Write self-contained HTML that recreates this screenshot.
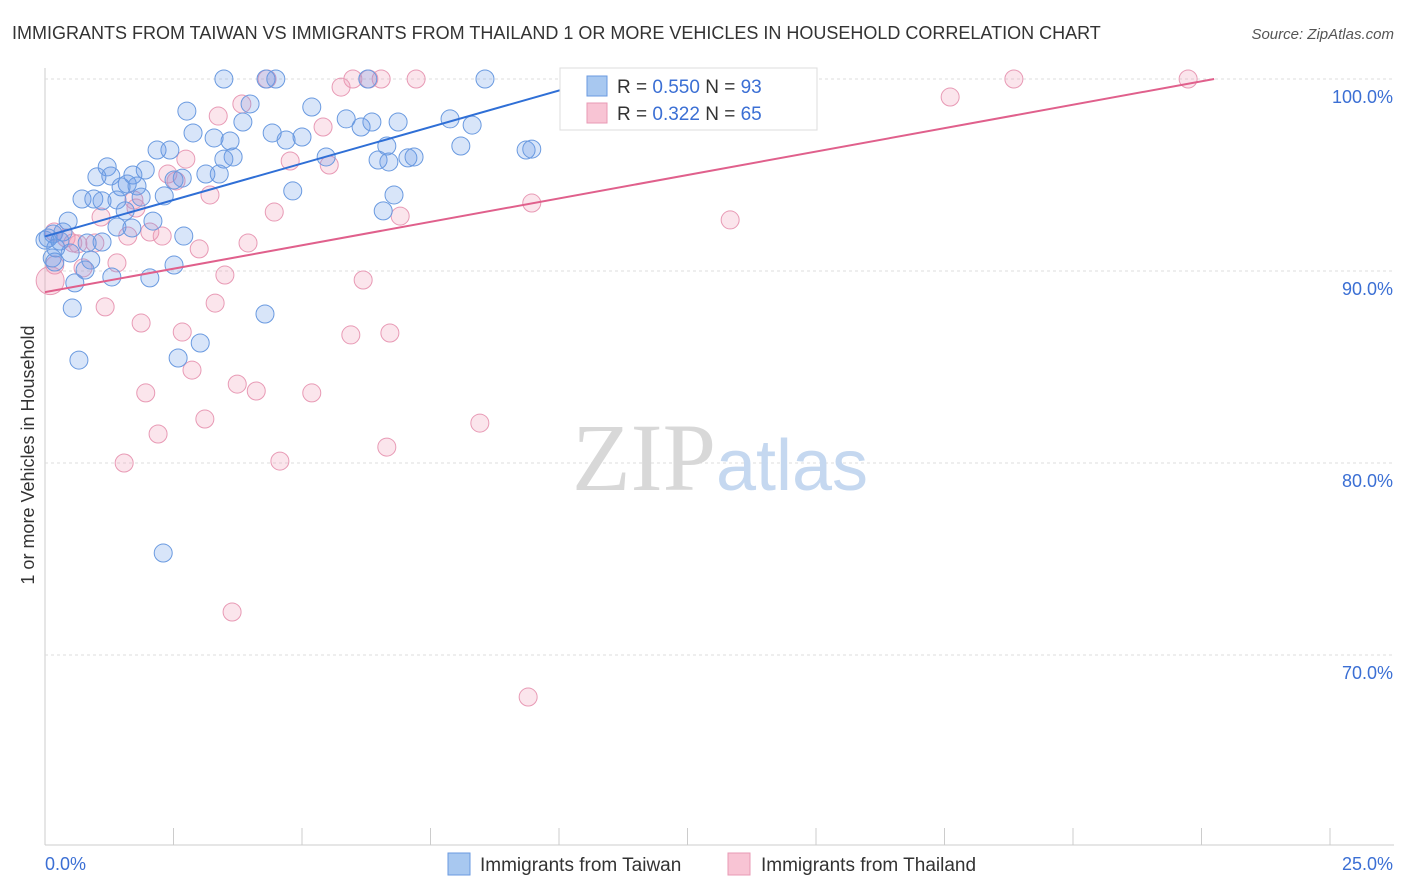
<!DOCTYPE html>
<html><head><meta charset="utf-8"><style>
body{margin:0;background:#fff;font-family:"Liberation Sans",sans-serif}
svg{display:block}
</style></head><body>
<svg id="chart" width="1406" height="892" xmlns="http://www.w3.org/2000/svg" font-family="Liberation Sans, sans-serif">
<text x="12" y="39" font-size="18" fill="#333">IMMIGRANTS FROM TAIWAN VS IMMIGRANTS FROM THAILAND 1 OR MORE VEHICLES IN HOUSEHOLD CORRELATION CHART</text>
<text x="1394" y="39" font-size="15" fill="#555" text-anchor="end" font-style="italic">Source: ZipAtlas.com</text>
<g id="grid"></g>
<text x="720" y="490" font-size="96" text-anchor="middle" font-family="Liberation Serif, serif" fill="#d8d8d8">ZIP<tspan fill="#c5d8f0" font-family="Liberation Sans, sans-serif" font-size="72">atlas</tspan></text>
<text transform="translate(34,455) rotate(-90)" font-size="18" fill="#333" text-anchor="middle">1 or more Vehicles in Household</text>
<g id="points"></g>
<g id="lines"></g>
<g>
<rect x="560" y="68" width="257" height="62" fill="#fff" stroke="#ddd"/>
<rect x="587" y="76" width="20" height="20" fill="#a8c8f0" stroke="#6a9ae0"/>
<rect x="587" y="103" width="20" height="20" fill="#f8c4d4" stroke="#e89ab5"/>
<text x="617" y="93" font-size="19" fill="#333">R = <tspan fill="#3b6fd4">0.550</tspan>   N = <tspan fill="#3b6fd4">93</tspan></text>
<text x="617" y="120" font-size="19" fill="#333">R =  <tspan fill="#3b6fd4">0.322</tspan>   N = <tspan fill="#3b6fd4">65</tspan></text>
</g>
<g>
<rect x="448" y="853" width="22" height="22" fill="#a8c8f0" stroke="#6a9ae0"/>
<text x="480" y="871" font-size="19" fill="#333">Immigrants from Taiwan</text>
<rect x="728" y="853" width="22" height="22" fill="#f8c4d4" stroke="#e89ab5"/>
<text x="761" y="871" font-size="19" fill="#333">Immigrants from Thailand</text>
</g>
</svg>
<script>
const yTicks=[100,90,80,70];
const xTickLabels=["0.0%","25.0%"];
const taiwanPx=[[224,79],[266,79],[276,79],[485,79],[368,79],[187,111],[250,104],[312,107],[243,122],[214,138],[193,133],[272,133],[286,140],[302,137],[230,141],[346,119],[361,127],[372,122],[398,122],[450,119],[472,125],[461,146],[526,150],[532,149],[157,150],[170,150],[233,157],[224,159],[326,157],[378,160],[389,162],[387,146],[408,158],[414,157],[107,167],[145,170],[133,175],[97,177],[111,176],[182,178],[206,174],[219,174],[174,180],[127,184],[137,186],[121,187],[82,199],[94,199],[102,201],[117,200],[141,197],[164,196],[293,191],[394,195],[125,211],[153,221],[68,221],[117,227],[132,228],[383,211],[53,234],[63,232],[48,238],[184,236],[102,242],[87,243],[70,253],[52,258],[55,262],[91,260],[85,270],[112,277],[150,278],[174,265],[75,283],[72,308],[265,314],[200,343],[79,360],[178,358],[163,553],[650,85],[666,83],[56,248],[60,241],[45,240]];
const thailandPx=[[267,79],[353,79],[381,79],[416,79],[369,79],[341,87],[651,79],[706,79],[1014,79],[1188,79],[950,97],[242,104],[218,116],[323,127],[290,161],[329,165],[186,159],[168,174],[176,181],[210,195],[134,200],[101,217],[136,208],[274,212],[400,216],[532,203],[730,220],[54,232],[66,238],[78,244],[95,243],[73,243],[128,236],[150,232],[162,236],[199,249],[248,243],[117,263],[83,268],[225,275],[363,280],[215,303],[105,307],[141,323],[182,332],[351,335],[390,333],[192,370],[237,384],[256,391],[312,393],[146,393],[205,419],[158,434],[480,423],[387,447],[124,463],[280,461],[232,612],[528,697],[55,265]];
// convert reference readings to data values (x in %, y in %)
const taiwanX=taiwanPx.map(p=>+((p[0]-45)/1285*25).toFixed(2));
const taiwanY=taiwanPx.map(p=>+(100-(p[1]-79)/19.2).toFixed(2));
const thailandX=thailandPx.map(p=>+((p[0]-45)/1285*25).toFixed(2));
const thailandY=thailandPx.map(p=>+(100-(p[1]-79)/19.2).toFixed(2));
const trendTaiwan=[91.8,0.76];
const trendThailand=[88.9,0.488];
const X=v=>45+v/25*1285, Y=v=>79+(100-v)*19.2;
const NS="http://www.w3.org/2000/svg";
function mk(t,a,p){const e=document.createElementNS(NS,t);for(const k in a)e.setAttribute(k,a[k]);p.appendChild(e);return e;}
const grid=document.getElementById('grid');
mk('line',{x1:45,y1:68,x2:45,y2:845,stroke:'#ccc'},grid);
mk('line',{x1:45,y1:845,x2:1394,y2:845,stroke:'#ccc'},grid);
yTicks.forEach(v=>{
 const l=mk('line',{x1:45,y1:Y(v),x2:1394,y2:Y(v),stroke:'#ddd','stroke-dasharray':'3,3'},grid);
 
 
 const t=mk('text',{x:1393,y:Y(v)+24,'text-anchor':'end','font-size':18,fill:'#3b6fd4'},grid);
 
 
 t.textContent=v.toFixed(1)+'%';
});
for(let i=0;i<=10;i++){mk('line',{x1:X(i*2.5),y1:828,x2:X(i*2.5),y2:845,stroke:'#ccc'},grid);}
const t0=mk('text',{x:45,y:870,'font-size':18,fill:'#3b6fd4'},grid);


t0.textContent=xTickLabels[0];
const t1=mk('text',{x:1393,y:870,'font-size':18,fill:'#3b6fd4','text-anchor':'end'},grid);


t1.textContent=xTickLabels[1];
const pts=document.getElementById('points');
thailandX.forEach((x,i)=>{
 const c=mk('circle',{cx:X(x),cy:Y(thailandY[i]),r:9,fill:'rgba(240,150,180,0.25)',stroke:'#e89ab5','stroke-width':1},pts);
 
 
});
const big=mk('circle',{cx:X(0.1),cy:Y(89.5),r:14,fill:'rgba(240,150,180,0.3)',stroke:'#e89ab5'},pts);


taiwanX.forEach((x,i)=>{
 const c=mk('circle',{cx:X(x),cy:Y(taiwanY[i]),r:9,fill:'rgba(100,150,230,0.25)',stroke:'#6a9ae0','stroke-width':1},pts);
 
 
});
const lines=document.getElementById('lines');
function trend(tr,col,name){
 const x2=Math.min(25,(100-tr[0])/tr[1]);
 const l=mk('line',{x1:X(0),y1:Y(tr[0]),x2:X(x2),y2:Y(tr[0]+tr[1]*x2),stroke:col,'stroke-width':2},lines);
 
 
}
trend(trendTaiwan,'#2f6fd6','trend-line-taiwan');
trend(trendThailand,'#e0608c','trend-line-thailand');
</script>
</body></html>
